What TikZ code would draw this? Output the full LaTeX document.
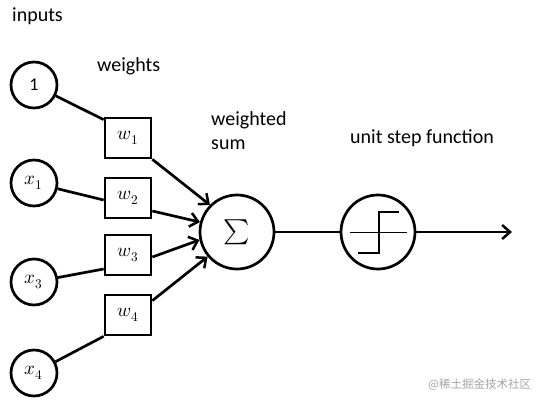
\documentclass[tikz,border=0pt]{standalone}
\usepackage{fontspec}
\usepackage{unicode-math}
\setmainfont{Carlito}
\setmathfont{Latin Modern Math}
\newfontfamily\cjkfont{Noto Sans CJK SC}
\usetikzlibrary{arrows.meta}
\newcommand{\mylab}[1]{\fontsize{19}{19}\selectfont$#1$}
\begin{document}
\begin{tikzpicture}[x=1pt,y=-1pt,
  thick line/.style={line width=2.7pt},
  innode/.style={circle,draw,thick line,minimum size=46pt,inner sep=0pt},
  wbox/.style={rectangle,draw,thick line,minimum width=46pt,minimum height=40pt,inner sep=0pt},
  bigcirc/.style={circle,draw,thick line,minimum size=74pt,inner sep=0pt},
  lbl/.style={anchor=base west,inner sep=0pt,font=\fontsize{20}{20}\selectfont},
  arr/.style={thick line,-{Straight Barb[length=8pt,width=14pt,line width=2.5pt]}},
  conn/.style={thick line}
]
\useasboundingbox (0,0) rectangle (555,405);
\fill[white] (0,0) rectangle (555,405);

% labels
\node[lbl] (tinputs) at (12,21) {inputs};
\node[lbl] (tweights) at (97,71) {weights};
\node[lbl] (tweighted) at (211,125) {weighted};
\node[lbl] (tsum) at (211,149) {sum};
\node[lbl] (tstep) at (350,143) {unit step function};

% inputs
\node[innode] (c1) at (34,85) {\fontsize{18}{18}\selectfont 1};
\node[innode] (x1) at (34,183) {\mylab{x_1}};
\node[innode] (x3) at (34,282) {\mylab{x_3}};
\node[innode] (x4) at (34,373) {\mylab{x_4}};

% weights
\node[wbox] (w1) at (128,138) {\mylab{w_1}};
\node[wbox] (w2) at (128,198) {\mylab{w_2}};
\node[wbox] (w3) at (128,255) {\mylab{w_3}};
\node[wbox] (w4) at (128,315) {\mylab{w_4}};

% sum and step
\node[bigcirc] (sig) at (237,232) {\fontsize{25}{25}\selectfont$\sum$};
\node[bigcirc] (stp) at (378,232) {};
\coordinate (out) at (512,232);

% input connectors
\draw[conn] (c1) -- ([yshift=-3pt]w1.north west);
\draw[conn] (x1) -- ([yshift=-2pt]w2.west);
\draw[conn] (x3) -- ([yshift=-14pt]w3.west);
\draw[conn] (x4) -- (w4.south west);

% arrows to sum
\draw[arr] (w1.south east) -- (sig.135);
\draw[arr] ([yshift=-13pt]w2.east) -- (sig.165);
\draw[arr] ([yshift=-2pt]w3.east) -- (sig.192);
\draw[arr] ([yshift=-7pt]w4.north east) -- (sig.220);

% sum to step, output
\draw[conn] (sig) -- (stp);
\draw[arr] (stp) -- (out);

% step function symbol
\draw[line width=0.8pt] ([xshift=-28pt]stp.center) -- ([xshift=29pt]stp.center);
\draw[line width=2.7pt] ([xshift=-20pt,yshift=-21pt]stp.center) -- ([xshift=1pt,yshift=-21pt]stp.center)
  -- ([xshift=1pt,yshift=20pt]stp.center) -- ([xshift=21pt,yshift=20pt]stp.center);

% watermark
\node[anchor=base west,inner sep=0pt,text=black!35,font=\cjkfont\fontsize{11.5}{11.5}\selectfont] (wm) at (428,388) {@稀土掘金技术社区};
\end{tikzpicture}
\end{document}
